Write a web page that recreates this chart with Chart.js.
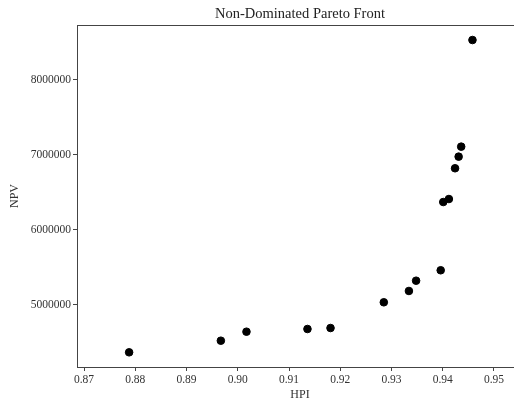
<!DOCTYPE html>
<html>
<head>
<meta charset="utf-8">
<script src="https://cdn.jsdelivr.net/npm/chart.js@4"></script>
<style>
  html, body { margin: 0; padding: 0; background: #fff; overflow: hidden; }
  #wrap { width: 530px; height: 402px; }
</style>
</head>
<body>
<div id="wrap"><canvas id="paretoChart"></canvas></div>
<script>
// HPI / NPV of each non-dominated solution
const hpi = [0.8788, 0.8967, 0.9017, 0.9136, 0.9181, 0.9285, 0.9334, 0.9348,
             0.9396, 0.9401, 0.9412, 0.9424, 0.9431, 0.9436, 0.9458];
const npv = [4369000, 4524000, 4644000, 4680000, 4693000, 5036000, 5187000, 5324000,
             5463000, 6373000, 6413000, 6823000, 6978000, 7111000, 8533000];
const xTicks = [0.87, 0.88, 0.89, 0.90, 0.91, 0.92, 0.93, 0.94, 0.95];
const yTicks = [5000000, 6000000, 7000000, 8000000];

const FONT = "'Liberation Serif', 'DejaVu Serif', serif";
const AXIS = '#444';

// top spine (the right one is cut off in the original) and the title
// centred over the axes box
const frame = {
  id: 'frame',
  afterDraw(chart) {
    const { ctx, chartArea: a } = chart;
    ctx.save();
    ctx.strokeStyle = AXIS;
    ctx.lineWidth = 1;
    ctx.beginPath();
    ctx.moveTo(a.left, a.top + 0.5);
    ctx.lineTo(chart.width, a.top + 0.5);
    ctx.stroke();
    ctx.fillStyle = '#222';
    ctx.font = '14.5px ' + FONT;
    ctx.textAlign = 'center';
    ctx.textBaseline = 'middle';
    ctx.fillText('Non-Dominated Pareto Front', (a.left + a.right) / 2, 14);
    ctx.restore();
  }
};

const ctx = document.getElementById('paretoChart').getContext('2d');
new Chart(ctx, {
  type: 'scatter',
  data: {
    datasets: [{
      data: hpi.map((h, i) => ({ x: h, y: npv[i] })),
      backgroundColor: '#000',
      borderColor: '#000',
      pointRadius: 3.8,
      pointHoverRadius: 3.8
    }]
  },
  options: {
    responsive: true,
    maintainAspectRatio: false,
    animation: false,
    layout: { padding: { top: 25, right: 7, left: 0, bottom: 0 } },
    plugins: { legend: { display: false }, tooltip: { enabled: false } },
    scales: {
      x: {
        type: 'linear',
        min: 0.86863,
        max: 0.95566,
        afterBuildTicks: s => { s.ticks = xTicks.map(v => ({ value: v })); },
        afterFit: s => { s.height = 35; s.paddingLeft = 0; s.paddingRight = 0; },
        grid: { drawOnChartArea: false, drawTicks: true, tickLength: 4, color: AXIS },
        border: { display: true, color: AXIS },
        ticks: {
          padding: 2,
          color: '#333',
          font: { family: FONT, size: 11.5 },
          callback: v => v.toFixed(2)
        },
        title: { display: true, text: 'HPI', color: '#333', padding: 0, font: { family: FONT, size: 12 } }
      },
      y: {
        type: 'linear',
        min: 4173300,
        max: 8733300,
        afterBuildTicks: s => { s.ticks = yTicks.map(v => ({ value: v })); },
        afterFit: s => { s.width = 77; s.paddingTop = 0; s.paddingBottom = 0; },
        grid: { drawOnChartArea: false, drawTicks: true, tickLength: 4, color: AXIS },
        border: { display: true, color: AXIS },
        ticks: {
          padding: 2,
          color: '#333',
          font: { family: FONT, size: 11.5 },
          callback: v => String(v)
        },
        title: { display: true, text: 'NPV', color: '#333', padding: { top: 8, bottom: 0 }, font: { family: FONT, size: 12 } }
      }
    }
  },
  plugins: [frame]
});
</script>
</body>
</html>
